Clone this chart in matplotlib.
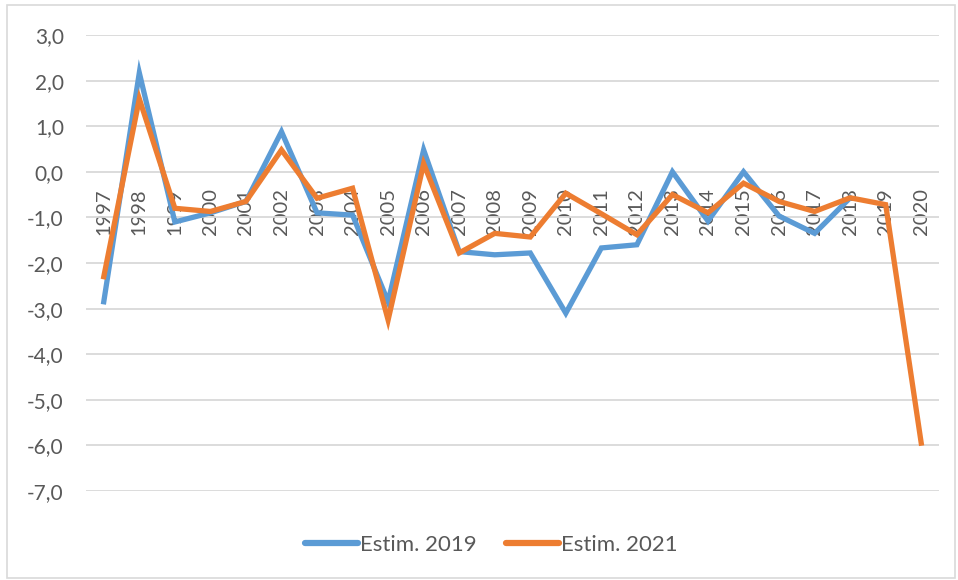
import numpy as np
import matplotlib
matplotlib.use('Agg')
import matplotlib.pyplot as plt
from matplotlib.patches import Rectangle

years = [str(y) for y in range(1997, 2021)]

# Estim. 2019 runs up to 2018
estim_2019 = [-2.85, 2.17, -1.1, -0.9, -0.65, 0.88, -0.9, -0.95, -2.85, 0.48,
              -1.75, -1.82, -1.78, -3.1, -1.67, -1.6, 0.0, -1.08, 0.0, -0.97,
              -1.35, -0.57]
estim_2021 = [-2.3, 1.6, -0.8, -0.87, -0.65, 0.48, -0.58, -0.36, -3.25, 0.18,
              -1.78, -1.35, -1.43, -0.47, -0.92, -1.38, -0.5, -0.9, -0.25, -0.65,
              -0.87, -0.57, -0.72, -5.95]

yticks = [3, 2, 1, 0, -1, -2, -3, -4, -5, -6, -7]

plt.rcParams['font.family'] = ['Lato', 'DejaVu Sans']
text_col = '#595959'

fig = plt.figure(figsize=(9.58, 5.80), dpi=100)
ax = fig.add_axes([86 / 958, 1 - 491 / 580, (939 - 86) / 958, (491 - 35) / 580])

x = np.arange(len(years))
ax.plot(x[:len(estim_2019)], estim_2019, color='#5B9BD5', lw=3.8,
        solid_joinstyle='miter', label='Estim. 2019', zorder=3)
ax.plot(x[:len(estim_2021)], estim_2021, color='#ED7D31', lw=3.8,
        solid_joinstyle='miter', label='Estim. 2021', zorder=4)

ax.set_xlim(-0.5, len(years) - 0.5)
ax.set_ylim(-7, 3)
ax.set_yticks(yticks)
ax.set_yticklabels([f"{v:.1f}".replace('.', ',') for v in yticks])
ax.yaxis.grid(True, color='#D9D9D9', lw=1.3)
ax.set_axisbelow(True)

# category labels sit just under the zero line, as in the Excel chart
ax.spines['bottom'].set_position(('data', 0))
ax.set_xticks(x)
ax.set_xticklabels(years)
for s in ['top', 'right', 'left', 'bottom']:
    ax.spines[s].set_visible(False)
ax.tick_params(axis='x', length=0, pad=12, labelsize=14.5, labelcolor=text_col,
               labelrotation=90)
ax.tick_params(axis='y', length=0, pad=16, labelsize=15, labelcolor=text_col)

leg = fig.legend(loc='center', bbox_to_anchor=(0.513, 0.06), ncol=2, frameon=False,
                 fontsize=16, handlelength=2.4, handletextpad=0.1, columnspacing=1.3)
for t in leg.get_texts():
    t.set_color(text_col)
for h in leg.get_lines():
    h.set_linewidth(4.5)
    h.set_solid_capstyle('round')

fig.patches.append(Rectangle((7 / 958, 2 / 580), 948 / 958, 573 / 580, transform=fig.transFigure,
                             fill=False, edgecolor='#D9D9D9', lw=1.2))

fig.savefig('out.png', dpi=100)
